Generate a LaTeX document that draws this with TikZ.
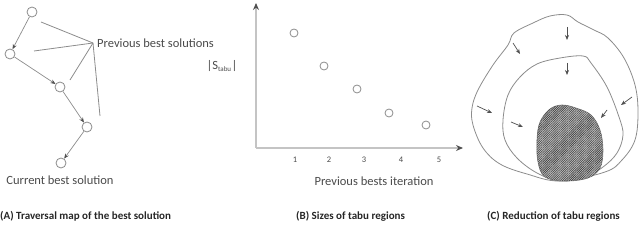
\documentclass[tikz,border=0pt]{standalone}
\usepackage{fontspec}
\setmainfont{Carlito}
\usetikzlibrary{arrows.meta,patterns.meta}
\definecolor{linegray}{HTML}{8C8C8C}
\definecolor{axisgray}{HTML}{C4C4C4}
\definecolor{tipgray}{HTML}{505050}
\definecolor{inkgray}{HTML}{4A4A4A}
\tikzset{
  sol/.style={circle, draw=linegray, fill=white, line width=0.8pt,
    minimum size=10pt, inner sep=0pt},
  hop/.style={draw=linegray, line width=0.7pt,
    -{Stealth[length=5pt, width=4pt, color=tipgray]}},
  pointer/.style={draw=linegray, line width=0.8pt},
  axis/.style={draw=axisgray, line width=1.4pt,
    -{Stealth[length=7pt, width=6pt, color=tipgray]}},
  shrink/.style={draw=tipgray, line width=0.7pt,
    -{Stealth[length=5pt, width=4pt]}},
  region/.style={draw=linegray, line width=0.8pt},
  label/.style={font=\fontsize{12.5}{14}\selectfont, text=inkgray, inner sep=0pt},
  ticklabel/.style={font=\fontsize{8.5}{10}\selectfont, text=inkgray, inner sep=0pt},
  caption/.style={font=\fontsize{11}{13}\selectfont\bfseries, text=black!85,
    anchor=west, inner sep=0pt},
}
\begin{document}
\begin{tikzpicture}[x=1pt, y=-1pt]
\useasboundingbox (0,0) rectangle (640,243);

% (A) traversal map
\node[sol] (s1) at (32,12) {};
\node[sol] (s2) at (10,54) {};
\node[sol] (s3) at (60,87) {};
\node[sol] (s4) at (87,127) {};
\node[sol] (s5) at (61,163) {};
\foreach \a/\b in {s1/s2, s2/s3, s3/s4, s4/s5}
  \draw[hop] (\a) -- (\b);

\coordinate (fan) at (93,43);
\node[label, anchor=west] (prevbest) at (97,43) {Previous best solutions};
\coordinate (e1) at (41,22);
\coordinate (e2) at (34,51);
\coordinate (e3) at (70,80);
\coordinate (e4) at (100,116);
\foreach \e in {e1, e2, e3, e4}
  \draw[pointer] (fan) -- (\e);
\node[label] (curbest) at (60,180) {Current best solution};

% (B) sizes of tabu regions
\coordinate (origin) at (256,148);
\coordinate (ytop) at (256,3);
\coordinate (xend) at (463,148);
\draw[axis] (origin) -- (ytop);
\draw[axis] (origin) -- (xend);
\foreach \i/\px/\py/\tx in {1/294/33/295, 2/324/66/329, 3/357/89/364,
                            4/389/113/401, 5/426/125/439} {
  \node[sol, minimum size=8pt] (p\i) at (\px,\py) {};
  \node[ticklabel] (t\i) at (\tx,160) {\i};
}
\node[label] (ysize) at (222,66) {\textbar S\textsubscript{\fontsize{7}{8}\selectfont tabu}\textbar};
\node[label] (xiter) at (374,181) {Previous bests iteration};

% (C) reduction of tabu regions
\draw[region] plot[smooth cycle, tension=0.6] coordinates {
  (560,181) (527,174) (500,164) (483,148) (473,125) (472,108) (478,90)
  (493,65) (508,45) (514,33) (533,23) (550,16) (567,15) (578,22)
  (594,30) (608,38) (624,58) (635,85) (638,112) (635,140) (622,160) (605,172)};
\draw[region, fill=white] plot[smooth cycle, tension=0.6] coordinates {
  (560,181) (537,173) (517,158) (505,140) (503,120) (508,95) (520,77)
  (537,64) (560,58) (583,56) (591,63) (607,87) (619,117) (623,135)
  (617,153) (603,167) (585,177)};
\draw[draw=gray, fill=gray!50, line width=0.6pt] plot[smooth cycle, tension=0.6] coordinates {
  (565,181) (545,177) (538,162) (537,140) (540,122) (550,109) (562,105)
  (576,108) (591,115) (600,130) (603,150) (600,168) (588,178)};
\fill[pattern={Lines[angle=45, distance=1.6pt, line width=0.6pt]}, pattern color=black!75]
  plot[smooth cycle, tension=0.6] coordinates {
  (565,181) (545,177) (538,162) (537,140) (540,122) (550,109) (562,105)
  (576,108) (591,115) (600,130) (603,150) (600,168) (588,178)};
\foreach \ax/\ay/\bx/\by in {567/27/567/40, 513/43/520/54, 567/63/567/75,
                             477/106/492/113, 632/97/621/105, 511/122/523/127,
                             607/110/601/118}
  \draw[shrink] (\ax,\ay) -- (\bx,\by);

% captions
\node[caption] (capA) at (0,216) {(A) Traversal map of the best solution};
\node[caption] (capB) at (296,216) {(B) Sizes of tabu regions};
\node[caption] (capC) at (487,216) {(C) Reduction of tabu regions};
\end{tikzpicture}
\end{document}
